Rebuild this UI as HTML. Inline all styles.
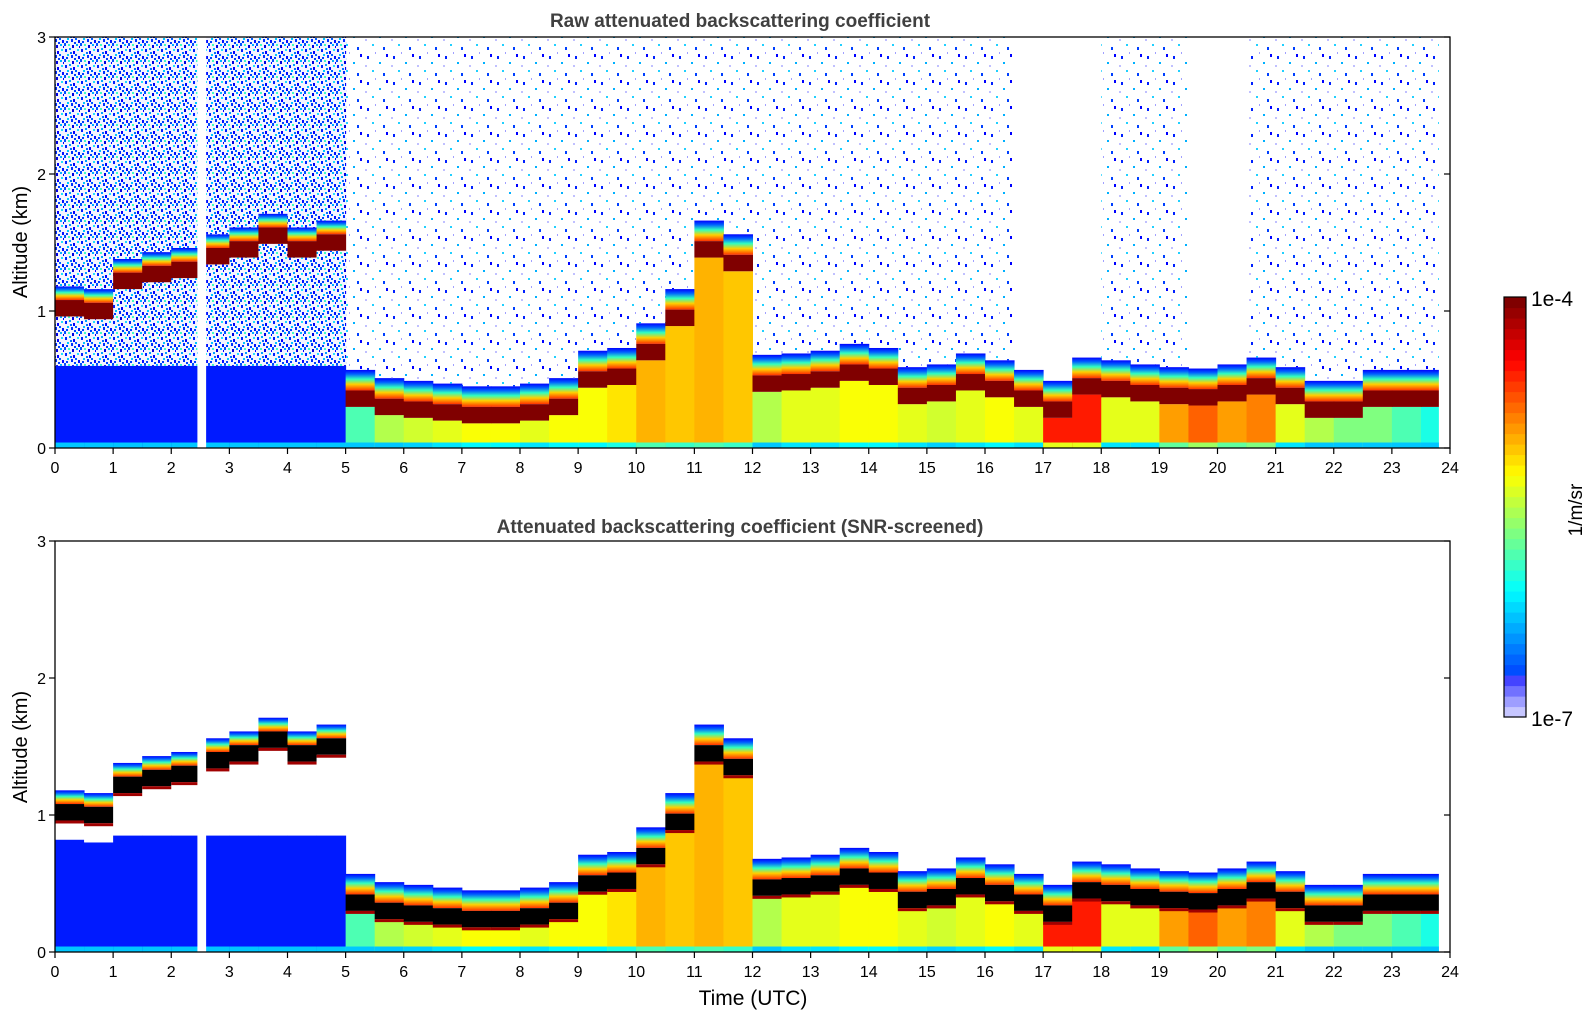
<!DOCTYPE html>
<html><head><meta charset="utf-8"><style>
html,body{margin:0;padding:0;background:#fff;}
svg text{font-family:"Liberation Sans","DejaVu Sans",sans-serif;}
</style></head><body>
<svg id="fig" width="1595" height="1020" viewBox="0 0 1595 1020" xmlns="http://www.w3.org/2000/svg">
<defs>
<pattern id="spDense" width="16" height="16" patternUnits="userSpaceOnUse">
<rect x="0" y="0" width="16" height="16" fill="#f4f4ff"/>
<rect x="1" y="1" width="2" height="3" fill="#0020ff"/><rect x="5" y="0" width="2" height="2" fill="#00a0ff"/>
<rect x="9" y="3" width="2" height="3" fill="#0000ff"/><rect x="13" y="1" width="2" height="2" fill="#20e0ff"/>
<rect x="3" y="6" width="2" height="2" fill="#00c8ff"/><rect x="7" y="7" width="2" height="3" fill="#0030ff"/>
<rect x="11" y="6" width="2" height="2" fill="#0060ff"/><rect x="14" y="8" width="2" height="3" fill="#0010ff"/>
<rect x="0" y="11" width="2" height="3" fill="#0050ff"/><rect x="4" y="12" width="2" height="2" fill="#40ffc0"/>
<rect x="8" y="13" width="2" height="3" fill="#0000e0"/><rect x="12" y="12" width="2" height="2" fill="#00b0ff"/>
<rect x="2" y="9" width="2" height="2" fill="#0040ff"/><rect x="10" y="10" width="2" height="2" fill="#0040ff"/>
<rect x="6" y="4" width="2" height="2" fill="#0070ff"/><rect x="15" y="14" width="1" height="2" fill="#0000ff"/>
</pattern>
<pattern id="spSparse" width="26" height="26" patternUnits="userSpaceOnUse">
<rect x="3" y="4" width="2" height="3" fill="#0020ff"/><rect x="15" y="10" width="2" height="2" fill="#00b0ff"/>
<rect x="22" y="2" width="2" height="3" fill="#0000ff"/><rect x="8" y="18" width="2" height="2" fill="#20d0ff"/>
<rect x="19" y="21" width="2" height="3" fill="#0040ff"/><rect x="11" y="0" width="1" height="2" fill="#a0a0ff"/>
<rect x="1" y="13" width="2" height="2" fill="#c0c0ff"/>
</pattern>
<linearGradient id="haloTop" x1="0" y1="1" x2="0" y2="0">
<stop offset="0" stop-color="#ff3000"/><stop offset="0.3" stop-color="#ffd000"/><stop offset="0.55" stop-color="#30ffc0"/><stop offset="0.8" stop-color="#0060ff"/><stop offset="1" stop-color="#0000ff"/>
</linearGradient>
</defs>
<g id="top"></g>
<g id="bot"></g>
<g id="cbar"></g>
<text x="740" y="27" text-anchor="middle" font-size="19" font-weight="bold" fill="#404040">Raw attenuated backscattering coefficient</text>
<text x="740" y="533" text-anchor="middle" font-size="19" font-weight="bold" fill="#404040">Attenuated backscattering coefficient (SNR-screened)</text>
<text x="753" y="1005" text-anchor="middle" font-size="21" fill="#000">Time (UTC)</text>
<text transform="translate(27,242) rotate(-90)" text-anchor="middle" font-size="20" fill="#000">Altitude (km)</text>
<text transform="translate(27,747) rotate(-90)" text-anchor="middle" font-size="20" fill="#000">Altitude (km)</text>
</svg>
<script>
// column centers every 0.5 h
const layerHeight = [1.02,1.0,1.22,1.27,1.3,1.4,1.45,1.55,1.45,1.5,0.36,0.3,0.28,0.26,0.24,0.24,0.26,0.3,0.5,0.52,0.7,0.95,1.45,1.35,0.47,0.48,0.5,0.55,0.52,0.38,0.4,0.48,0.43,0.36,0.28,0.45,0.43,0.4,0.38,0.37,0.4,0.45,0.38,0.28,0.28,0.36,0.36,0.36];
const lowerIntensity = [0.15,0.15,0.15,0.15,0.15,0.15,0.15,0.15,0.15,0.15,0.45,0.55,0.58,0.6,0.62,0.62,0.6,0.62,0.62,0.65,0.7,0.68,0.7,0.68,0.55,0.6,0.6,0.62,0.62,0.6,0.58,0.6,0.62,0.6,0.85,0.85,0.6,0.6,0.72,0.78,0.72,0.75,0.6,0.55,0.5,0.5,0.45,0.4];
const noiseLevel = [2,2,2,2,2,2,2,2,2,2,1,1,1,1,1,1,1,1,1,1,1,1,1,1,1,1,1,1,1,1,1,1,1,0,0,0,1,1,1,0,0,1,1,1,1,1,1,1];
const dataGaps = [[2.45,2.6]];
const dataEnd = 23.8;
const xTicks = [0,1,2,3,4,5,6,7,8,9,10,11,12,13,14,15,16,17,18,19,20,21,22,23,24];
const yTicks = [0,1,2,3];
const cbarLabels = ["1e-4","1e-7"];

const NS="http://www.w3.org/2000/svg";
const L=55,R=1450,W=R-L;
function xs(t){return L+t/24*W;}
function jet(v){v=Math.max(0,Math.min(1,v));
 const r=Math.max(0,Math.min(1,1.5-Math.abs(4*v-3))),g=Math.max(0,Math.min(1,1.5-Math.abs(4*v-2))),b=Math.max(0,Math.min(1,1.5-Math.abs(4*v-1)));
 return `rgb(${Math.round(r*255)},${Math.round(g*255)},${Math.round(b*255)})`;}
function mk(parent,tag,attrs){const e=document.createElementNS(NS,tag);for(const k in attrs)e.setAttribute(k,attrs[k]);parent.appendChild(e);return e;}

function panel(g,T,B,screened){
 const ys=h=>B-h/3*(B-T);
 const dt=0.5;
 layerHeight.forEach((h,i)=>{
  const t0=i*dt, t1=Math.min((i+1)*dt,dataEnd);
  const x0=xs(t0), w=xs(t1)-x0+0.5;
  const low=lowerIntensity[i], clean=low<0.3;
  let r=mk(g,'rect',{x:x0,y:ys(h-0.06),width:w,height:B-ys(h-0.06),fill:jet(low)});
  
  
  if(clean){
   if(screened){
    const lim=Math.min(0.85,h-0.2);
    r.setAttribute('y',ys(lim));r.setAttribute('height',B-ys(lim));
    const gw=mk(g,'rect',{x:x0,y:ys(h-0.06),width:w,height:ys(lim)-ys(h-0.06),fill:'#fff'});
    
    
   } else {
    r.setAttribute('y',ys(0.6));r.setAttribute('height',B-ys(0.6));
    const sp=mk(g,'rect',{x:x0,y:ys(h-0.06),width:w,height:ys(0.6)-ys(h-0.06),fill:'url(#spDense)'});
    
    
   }
  }
  const s=mk(g,'rect',{x:x0,y:ys(0.04),width:w,height:B-ys(0.04),fill:jet(Math.max(0.32,low-0.25))});
  
  
  const hh=clean?0.1:0.15;
  const ha=mk(g,'rect',{x:x0,y:ys(h+0.06+hh),width:w,height:ys(h+0.06)-ys(h+0.06+hh),fill:'url(#haloTop)'});
  
  
  const bd=mk(g,'rect',{x:x0,y:ys(h+0.06),width:w,height:ys(h-0.06)-ys(h+0.06),fill:screened?'#000':'#800000'});
  
  
  if(screened){
   const e=mk(g,'rect',{x:x0,y:ys(h-0.06),width:w,height:3,fill:'#a00000'});
   
   
  }
  if(!screened&&noiseLevel[i]>0){
   const n=mk(g,'rect',{x:x0,y:T,width:w,height:ys(h+0.06+hh)-T,fill:noiseLevel[i]>1?'url(#spDense)':'url(#spSparse)'});
   
   
  }
 });
 dataGaps.forEach(gp=>{
  const gr=mk(g,'rect',{x:xs(gp[0]),y:T,width:xs(gp[1])-xs(gp[0]),height:B-T,fill:'#fff'});
  
  
 });
 const fr=mk(g,'rect',{x:L,y:T,width:W,height:B-T,fill:'none',stroke:'#000','stroke-width':1.3});
 
 
 xTicks.forEach(t=>{
  const tk=mk(g,'line',{x1:xs(t),x2:xs(t),y1:B,y2:B+6,stroke:'#000','stroke-width':1.2});
  
  
  const lb=mk(g,'text',{x:xs(t),y:B+25,'text-anchor':'middle','font-size':16});
  lb.textContent=t;
  
  
 });
 yTicks.forEach(v=>{
  const tk=mk(g,'line',{x1:L-6,x2:L,y1:ys(v),y2:ys(v),stroke:'#000','stroke-width':1.2});
  
  
  const tr=mk(g,'line',{x1:R-6,x2:R,y1:ys(v),y2:ys(v),stroke:'#000','stroke-width':1.2});
  
  
  const lb=mk(g,'text',{x:L-9,y:ys(v)+6,'text-anchor':'end','font-size':16});
  lb.textContent=v;
  
  
 });
}
panel(document.getElementById('top'),37,448,false);
panel(document.getElementById('bot'),541,952,true);

(function(){
 const g=document.getElementById('cbar');
 const x=1504,w=22,T=297,B=717,n=40,sh=(B-T)/n;
 for(let i=0;i<n;i++){
  const v=i/(n-1);
  let col=jet(0.11+0.89*v);
  if(i<4){const k=[0.88,0.7,0.5,0.3][i];col=`rgb(${Math.round(k*225)},${Math.round(k*225)},255)`;}
  const r=mk(g,'rect',{x:x,y:B-(i+1)*sh,width:w,height:sh+0.6,fill:col});
  
  
 }
 const f=mk(g,'rect',{x:x,y:T,width:w,height:B-T,fill:'none',stroke:'#000','stroke-width':1.2});
 
 
 const t1=mk(g,'text',{x:1531,y:T+9,'font-size':21});t1.textContent=cbarLabels[0];
 
 
 const t2=mk(g,'text',{x:1531,y:B+9,'font-size':21});t2.textContent=cbarLabels[1];
 
 
 const u=mk(g,'text',{transform:'translate(1582,510) rotate(-90)','text-anchor':'middle','font-size':19});u.textContent='1/m/sr';
 
 
})();
</script>
</body></html>
